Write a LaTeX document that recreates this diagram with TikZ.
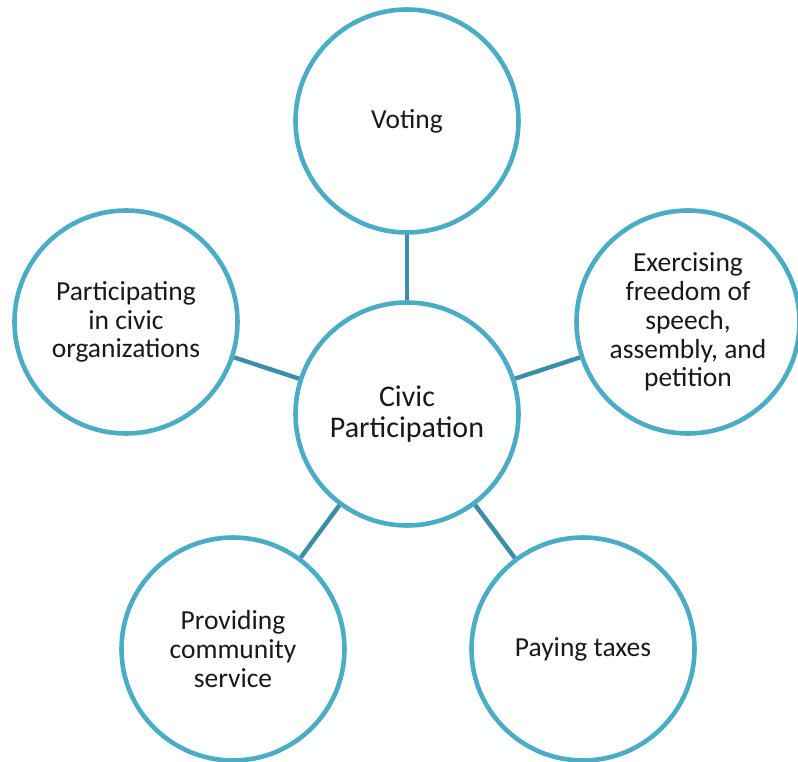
\documentclass[tikz,border=0pt]{standalone}
\usepackage{fontspec}
\setmainfont{Carlito}
\usepackage{xcolor}
\usepackage{tikz}
\usetikzlibrary{positioning}

\definecolor{civicblue}{HTML}{4BACC6}
\definecolor{civiclink}{HTML}{3B8EA5}

\begin{document}
\begin{tikzpicture}[x=1pt, y=-1pt,
  topic/.style={circle, draw=civicblue, line width=4.6pt, minimum size=223pt,
    inner sep=0pt, align=center, text=black!90,
    font=\fontsize{27.5}{28.8}\selectfont},
  link/.style={draw=civiclink, line width=4.4pt}]
  \useasboundingbox (0,0) rectangle (798,762);

  \node[topic, font=\fontsize{30}{31}\selectfont] (hub) at (407,414) {Civic\\Participation};
  \node[topic] (voting) at (407,121) {Voting};
  \node[topic] (orgs) at (126,322) {Participating\\in civic\\organizations};
  \node[topic] (speech) at (688,322) {Exercising\\freedom of\\speech,\\assembly, and\\petition};
  \node[topic] (service) at (233,649) {Providing\\community\\service};
  \node[topic] (taxes) at (583,649) {Paying taxes};

  \draw[link] (hub) -- (voting);
  \draw[link] (hub) -- (orgs);
  \draw[link] (hub) -- (speech);
  \draw[link] (hub) -- (service);
  \draw[link] (hub) -- (taxes);
\end{tikzpicture}
\end{document}
